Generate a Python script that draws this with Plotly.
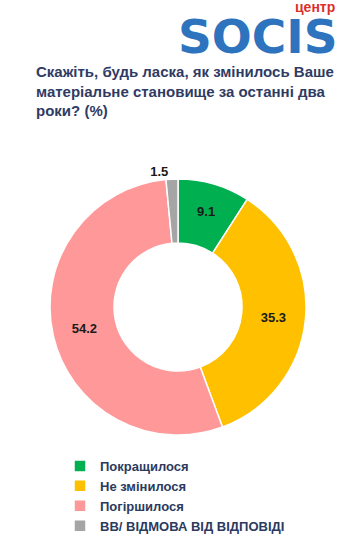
import plotly.graph_objects as go

labels = ["Покращилося", "Не змінилося", "Погіршилося", "ВВ/ ВІДМОВА ВІД ВІДПОВІДІ"]
values = [9.1, 35.3, 54.2, 1.5]
colors = ["#00B050", "#FFC000", "#FF9999", "#A5A5A5"]
text_positions = ["inside", "inside", "inside", "outside"]

title_text = "Скажіть, будь ласка, як змінилось Ваше<br>матеріальне становище за останні два<br>роки? (%)"

W, H = 345, 537
cx, cy, r = 178, 307, 128
fig = go.Figure()
fig.add_trace(go.Pie(
    labels=labels,
    values=values,
    marker=dict(colors=colors, line=dict(color="white", width=1.5)),
    hole=0.5,
    sort=False,
    direction="clockwise",
    rotation=0,
    texttemplate="%{value}",
    textposition=text_positions,
    insidetextorientation="horizontal",
    textfont=dict(family="Liberation Sans, Arial", size=13, color="#1a1a1a", weight="bold"),
    outsidetextfont=dict(family="Liberation Sans, Arial", size=13, color="#1a1a1a", weight="bold"),
    domain=dict(x=[(cx - r) / W, (cx + r) / W],
                y=[(H - cy - r) / H, (H - cy + r) / H]),
    automargin=False,
    showlegend=True,
))

fig.update_layout(
    width=W, height=H,
    margin=dict(l=0, r=0, t=0, b=0, autoexpand=False),
    paper_bgcolor="white",
    plot_bgcolor="white",
    legend=dict(
        x=60 / W, y=(H - 451) / H, xanchor="left", yanchor="top",
        orientation="v",
        font=dict(family="Liberation Sans, Arial", size=13, color="#2B3A5E", weight="bold"),
        itemwidth=30,
        tracegroupgap=0,
        bgcolor="rgba(0,0,0,0)",
    ),
    annotations=[
        dict(text=title_text, x=34 / W, y=(H - 61) / H, xref="paper", yref="paper",
             xanchor="left", yanchor="top", align="left", showarrow=False,
             font=dict(family="Liberation Sans, Arial", size=15, color="#2F3B63", weight="bold")),
        dict(text="SOCIS", x=258 / W, y=(H - 37) / H, xref="paper", yref="paper",
             xanchor="center", yanchor="middle", showarrow=False,
             font=dict(family="DejaVu Sans, Liberation Sans", size=47, color="#2E73BE", weight="bold")),
        dict(text="центр", x=337 / W, y=(H - 7) / H, xref="paper", yref="paper",
             xanchor="right", yanchor="middle", showarrow=False,
             font=dict(family="Liberation Sans, Arial", size=14, color="#D9302A", weight="bold")),
    ],
)

fig.write_html("out.html")
